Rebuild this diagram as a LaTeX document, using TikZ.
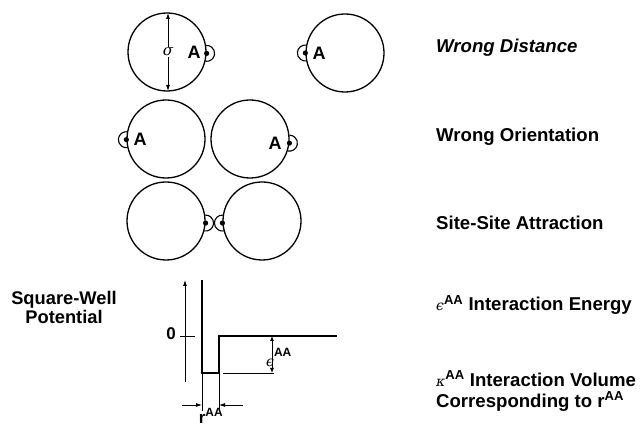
\documentclass[tikz,border=0pt]{standalone}
\usepackage{fontspec}
\setmainfont{Liberation Sans}
\newfontfamily\grk{DejaVu Serif}
\usetikzlibrary{calc,arrows.meta}
\newcommand\sitemark[2]{%
  \fill (#1.#2) circle (2.6);
  \draw[line width=1.1pt] ($(#1.#2)+(#2-96:8)$) arc[start angle=#2-96, end angle=#2+96, radius=8];
}
\newcommand\gk[1]{{\grk\itshape\mdseries #1}}
\newcommand\sgk[1]{{\fontsize{14}{14}\selectfont\grk\itshape\mdseries #1}}
\begin{document}
\begin{tikzpicture}[x=1pt,y=1pt,
  ball/.style={circle,draw,line width=1.3pt,minimum size=78pt,inner sep=0pt},
  lab/.style={font=\fontsize{18.6}{21}\selectfont\bfseries,anchor=west,inner sep=0pt,align=left},
  alab/.style={font=\fontsize{18}{20}\selectfont\bfseries,inner sep=0pt},
  wellline/.style={line width=1.4pt},
  thinline/.style={line width=0.8pt},
  tip/.style={-{Latex[length=6pt,width=4pt]}}
]
\useasboundingbox (0,0) rectangle (640,427);

% row 1: wrong distance
\node[ball] (L1) at (167,375) {};
\node[ball] (R1) at (345,374) {};
\sitemark{L1}{358}
\sitemark{R1}{180}
\node[font=\fontsize{15}{15}\selectfont,inner sep=1pt] (sig) at (168,375) {\gk{σ}};
\draw[thinline,tip] (sig.north) -- (168,414);
\draw[thinline,tip] (sig.south) -- (168,336);
\node[alab] (A1) at (194,375) {A};
\node[alab] (A2) at (319,374) {A};

% row 2: wrong orientation
\node[ball] (L2) at (166,288) {};
\node[ball] (R2) at (250,288) {};
\sitemark{L2}{181}
\sitemark{R2}{354}
\node[alab] (A3) at (140,288) {A};
\node[alab] (A4) at (275,284) {A};

% row 3: site-site attraction
\node[ball] (L3) at (166,206) {};
\node[ball] (R3) at (262,206) {};
\sitemark{L3}{357}
\sitemark{R3}{183}

% square-well potential
\node[font=\fontsize{18.3}{19}\selectfont\bfseries,align=center] (sw) at (64,120) {Square-Well\\Potential};
\coordinate (axb) at (185,45);
\coordinate (axt) at (185,147);
\draw[thinline,tip] (axb) -- (axt);
\coordinate (wt) at (202,147);
\coordinate (wb) at (202,54);
\coordinate (sb) at (219,54);
\coordinate (st) at (219,91);
\coordinate (fe) at (337,91);
\draw[wellline] (wt) -- (wb) -- (sb) -- (st) -- (fe);
\node[font=\fontsize{17}{17}\selectfont\bfseries] (zero) at (171,93) {0};
\coordinate (tk1) at (180,91);
\coordinate (tk2) at (195,91);
\draw[thinline] (tk1) -- (tk2);
\coordinate (bl1) at (223,54);
\coordinate (bl2) at (274,54);
\draw[thinline] (bl1) -- (bl2);
\coordinate (ea) at (272,91);
\coordinate (eb) at (272,54);
\draw[thinline,{Latex[length=5pt,width=4pt]}-{Latex[length=5pt,width=4pt]}] (ea) -- (eb);
\node[anchor=west,inner sep=0pt] (eps) at (266,70) {\fontsize{14}{14}\selectfont\gk{ϵ}\raisebox{10pt}{\fontsize{12}{12}\selectfont\bfseries AA}};
\coordinate (wl) at (202,16);
\coordinate (sl) at (219,16);
\draw[thinline] (wb) -- (wl);
\draw[thinline] (sb) -- (sl);
\coordinate (ra1) at (182,22);
\coordinate (ra2) at (243,22);
\coordinate (rb1) at (202,22);
\coordinate (rb2) at (219,22);
\draw[thinline,tip] (ra1) -- (rb1);
\draw[thinline,tip] (ra2) -- (rb2);
\node[font=\fontsize{17}{17}\selectfont\bfseries,inner sep=0pt] (rlab) at (211,11) {r\textsuperscript{AA}};

% right-hand labels
\node[lab,font=\fontsize{18.6}{21}\selectfont\bfseries\itshape] (t1) at (436,379) {Wrong Distance};
\node[lab] (t2) at (436,290) {Wrong Orientation};
\node[lab] (t3) at (436,204) {Site-Site Attraction};
\node[lab] (t4) at (436,122) {\sgk{ϵ}\textsuperscript{AA} Interaction Energy};
\node[lab,font=\fontsize{18.6}{21}\selectfont\bfseries] (t5) at (436,36) {\sgk{κ}\textsuperscript{AA} Interaction Volume\\Corresponding to r\textsuperscript{AA}};
\end{tikzpicture}
\end{document}
